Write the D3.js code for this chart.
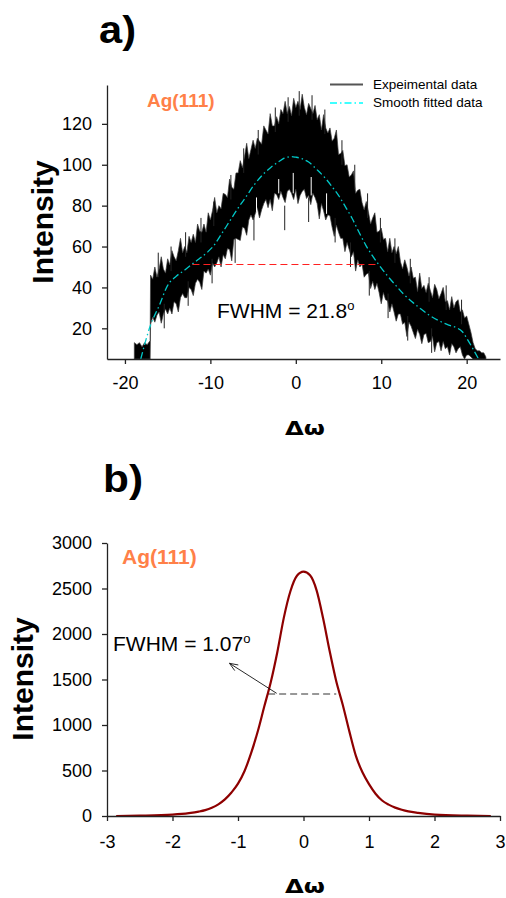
<!DOCTYPE html>
<html><head><meta charset="utf-8">
<script src="https://cdn.jsdelivr.net/npm/d3@7"></script>
<style>body{margin:0;background:#fff}svg{display:block}</style>
</head><body>
<script>
// ---------- Panel a data ----------
const aXTicks = [-20, -10, 0, 10, 20];
const aYTicks = [20, 40, 60, 80, 100, 120];
// experimental trace, read as upper / lower edge of the noisy band
const expX = [-18.9,-18.6,-18.3,-18,-17.7,-17.4,-17.05,
  -17,-16.75,-16.5,-16.25,-16,-15.75,-15.5,-15.25,-15,
  -14.75,-14.5,-14.25,-14,-13.75,-13.5,-13.25,-13,
  -12.75,-12.5,-12.25,-12,-11.75,-11.5,-11.25,-11,
  -10.75,-10.5,-10.25,-10,-9.75,-9.5,-9.25,-9,
  -8.75,-8.5,-8.25,-8,-7.75,-7.5,-7.25,-7,
  -6.75,-6.5,-6.25,-6,-5.75,-5.5,-5.25,-5,
  -4.75,-4.5,-4.25,-4,-3.75,-3.5,-3.25,-3,
  -2.75,-2.5,-2.25,-2,-1.75,-1.5,-1.25,-1,
  -0.75,-0.5,-0.25,0,0.25,0.5,0.75,1,
  1.25,1.5,1.75,2,2.25,2.5,2.75,3,
  3.25,3.5,3.75,4,4.25,4.5,4.75,5,
  5.25,5.5,5.75,6,6.25,6.5,6.75,7,
  7.25,7.5,7.75,8,8.25,8.5,8.75,9,
  9.25,9.5,9.75,10,10.25,10.5,10.75,11,
  11.25,11.5,11.75,12,12.25,12.5,12.75,13,
  13.25,13.5,13.75,14,14.25,14.5,14.75,15,
  15.25,15.5,15.75,16,16.25,16.5,16.75,17,
  17.25,17.5,17.75,18,18.25,18.5,18.75,19,
  19.25,19.5,19.75,20,20.25,20.5,
  20.75,21,21.25,21.5,21.75,22,22.25];
const expHi = [13,12,13,11,13,12,14,
  46,44,50,45,49,55,49,47,54,
  51,58,55,53,58,64,57,60,
  57,65,62,66,62,71,67.5,67,
  71,67,76.5,73,77.5,84,76.5,80,
  78.5,86,85.5,84,93,89,88,96,
  96,102,98.5,104,110.5,103,107.5,112,
  108,113,111.5,110,119,117,115,125,
  119,119,123.5,120,127,125,131,125,
  128.5,124,132.5,128,131,127,134.5,128,
  124.5,130,127.5,125,129,122,124.5,117,
  124.5,118,115.5,118,111.5,113,117,105,
  105.5,107,99.5,100,94,95,97,86,
  87.5,88,81.5,78,82,77,71,74,
  76.5,67,67.5,69,63.5,64,57.5,64,
  57,60,56.5,60,52.5,49,53.5,50,
  45.5,50,44.5,45,38,47,39.5,41,
  37.5,42,38.5,35,41.5,39,34.5,37,
  40,33,33.5,29,35.5,30,33,34,
  28,29,25,26,22,18,
  13,10,9,9,8,8,6];
const expLo = [5,5,5,5,5,5,5,
  22,25.5,23,26.5,28,22.5,27,29.5,27,
  30,27,33,32,28,35,37,35,
  35,40,39,36,42,44,42.5,39,
  48,47,49,46,52,50,52,55,
  50,56,54,59,58.5,53,63.5,64,
  63.5,63,69.5,69,65.5,73,75.5,73,
  76,79,74,78,81,83,79,83,
  77.5,86,85.5,83,87,84,81.5,87,
  88,86,83,88,81,85,87,88,
  83.5,85,80.5,86,84,81,73.5,81,
  77.5,73,75.5,75,69.5,65,70.5,67,
  64,64,57.5,62,58.5,55,57.5,48,
  53.5,50,51.5,45,46.5,47,39.5,43,
  39,42,37.5,32,37.5,34,33.5,28,
  32,28,23.5,27,27,22,23,16,
  23,21,18,15,19.5,17,12.5,17,
  17.5,13,13.5,16,8.5,13,13.5,9,
  13.5,10,11,7,12.5,11,8,10,
  11,7,5,7,7,6,
  5,5,5,5,5,5,5];
// tallest single spikes of the trace: x, upper value, lower value
const spikeX   = [-16.1,-14.6,-12.9,-11.1,-9.6,-7.6,-6.1,-4.4,-2.4,-0.9,0.4,1.9,3.4,5.4,6.9,8.4,9.9,11.6,13.4,15.6,17.6,19.4,
                  -15.4,-12.6,-9.8,-7.1,-4.9,-1.3,1.5,4.6,6.4,8.6,10.8,13.1,15.9];
const spikeTop = [57,60,67,74,82,95,108,117,128,133,136,134,127,112,100,86,74,64,54,45,41,34,
                  32,43,54,64,75,80,84,74,62,48,37,26,20];
const spikeBot = [45,48,55,62,70,83,96,105,116,121,124,122,115,100,88,74,62,52,42,33,29,22,
                  20,31,42,52,63,68,72,62,50,36,25,14,8];
// light gaps inside the trace
const gapX   = [-4.6,-2.0,-0.3,1.8,3.6];
const gapBot = [77,86,86,85,76];
const gapTop = [84,93,96,94,86];
// smooth fit
const fitX = [-18.15,-17,-16,-15,-14,-13,-12.3,-11.3,-10.3,-9.5,-8.8,-7.8,-6.8,-5.8,-4.9,-3.9,-2.9,-2,-1.36,-0.5,0,0.7,1.5,2.5,3.5,4.2,5,5.8,6.6,7.4,8.2,9,9.75,10.7,11.7,12.6,13.6,14.6,15.6,16.7,17.9,18.8,19.5,20.1,20.7,21.4];
const fitY = [5,21.6,31,41,45.5,48.5,50.9,54,57.4,61,65.5,72,78.5,84.5,90,95,98.8,101.5,103.2,104,103.7,103,101.3,97.5,93.2,89.5,85,79.5,73.7,67,60.6,55.3,50.9,45.8,41,36.8,33,29.6,26.5,23.8,21.6,20.3,18.3,14.5,10.2,5];
const fwhmAX = [-12.1, 9.7];
const fwhmAY = 51.2;
const legendLabels = ["Expeimental data", "Smooth fitted data"];

// ---------- Panel b data ----------
const bXTicks = [-3, -2, -1, 0, 1, 2, 3];
const bYTicks = [0, 500, 1000, 1500, 2000, 2500, 3000];
const peakX = [-2.86,-2.5,-2,-1.75,-1.6,-1.5,-1.4,-1.3,-1.2,-1.1,-1,-0.9,-0.8,-0.7,-0.6,-0.5,-0.4,-0.3,-0.2,-0.1,0,0.1,0.2,0.3,0.4,0.5,0.6,0.7,0.8,0.9,1,1.1,1.2,1.3,1.4,1.5,1.6,1.75,2,2.5,2.86];
const peakY = [0,4,16,32,48,64,90,128,182,258,355,495,690,925,1200,1470,1800,2180,2470,2640,2685,2645,2480,2170,1810,1480,1220,930,660,480,350,245,170,125,92,68,50,34,16,4,0];
const fwhmBX = [-0.54, 0.5];
const fwhmBY = 1340;
const arrowB = {x1: -0.41, y1: 1348, x2: -1.13, y2: 1678};

const W = 506, H = 898;
const svg = d3.select("body").append("svg").attr("width", W).attr("height", H);
const FONT = "Liberation Sans, Arial, sans-serif";
const fmt = d => String(d);

function styleAxis(g) {
  g.selectAll(".domain").attr("stroke", "#222").attr("stroke-width", 1.3);
  g.selectAll(".tick line").attr("stroke", "#222").attr("stroke-width", 1.3);
  g.selectAll(".tick text").attr("font-family", FONT).attr("font-size", 18).attr("fill", "#000");
}

// ===== Panel a =====
const xA = d3.scaleLinear([-22.1, 23.9], [107, 500]);
const yA = d3.scaleLinear([5, 139], [359, 85]);
const ga = svg.append("g");

ga.append("text").attr("x", 99).attr("y", 43).attr("font-family", FONT).attr("font-weight", "bold")
  .attr("font-size", 38).attr("textLength", 37).attr("lengthAdjust", "spacingAndGlyphs").text("a)");

const expData = expX.map((x, i) => ({x, hi: expHi[i], lo: expLo[i]}));
ga.append("path").datum(expData)
  .attr("d", d3.area().x(d => xA(d.x)).y0(d => yA(d.lo)).y1(d => yA(d.hi)))
  .attr("fill", "#000").attr("stroke", "#3a3a3a").attr("stroke-width", 0.7).attr("stroke-linejoin", "miter");
ga.append("g").selectAll("line").data(spikeX).join("line")
  .attr("x1", d => xA(d)).attr("x2", d => xA(d))
  .attr("y1", (d, i) => yA(spikeTop[i])).attr("y2", (d, i) => yA(spikeBot[i]))
  .attr("stroke", "#222").attr("stroke-width", 1);
ga.append("g").selectAll("line").data(gapX).join("line")
  .attr("x1", d => xA(d)).attr("x2", d => xA(d))
  .attr("y1", (d, i) => yA(gapTop[i])).attr("y2", (d, i) => yA(gapBot[i]))
  .attr("stroke", "#fff").attr("stroke-width", 1);

ga.append("line").attr("x1", xA(fwhmAX[0])).attr("x2", xA(fwhmAX[1]))
  .attr("y1", yA(fwhmAY)).attr("y2", yA(fwhmAY))
  .attr("stroke", "#ff2020").attr("stroke-width", 1.1).attr("stroke-dasharray", "7,4");

const fitData = fitX.map((x, i) => ({x, y: fitY[i]}));
ga.append("path").datum(fitData)
  .attr("d", d3.line().x(d => xA(d.x)).y(d => yA(d.y)).curve(d3.curveMonotoneX))
  .attr("fill", "none").attr("stroke", "#00c8c8").attr("stroke-width", 1.3)
  .attr("stroke-dasharray", "7,3,1.5,3");

const axA_x = ga.append("g").attr("transform", "translate(0,359)")
  .call(d3.axisBottom(xA).tickValues(aXTicks).tickFormat(fmt).tickSize(5).tickPadding(12).tickSizeOuter(0));
styleAxis(axA_x);
const axA_y = ga.append("g").attr("transform", "translate(107,0)")
  .call(d3.axisLeft(yA).tickValues(aYTicks).tickFormat(fmt).tickSize(5).tickPadding(10).tickSizeOuter(0));
styleAxis(axA_y);

ga.append("text").attr("transform", "translate(53,222) rotate(-90)").attr("text-anchor", "middle")
  .attr("font-family", FONT).attr("font-weight", "bold").attr("font-size", 30).text("Intensity");
ga.append("text").attr("x", 285).attr("y", 435).attr("font-family", "DejaVu Sans, sans-serif")
  .attr("font-weight", "bold").attr("font-size", 19).attr("textLength", 40)
  .attr("lengthAdjust", "spacingAndGlyphs").text("Δω");

ga.append("text").attr("x", 147).attr("y", 106.5).attr("font-family", FONT).attr("font-weight", "bold")
  .attr("font-size", 19).attr("fill", "#ff8048").text("Ag(111)");

const fa = ga.append("text").attr("x", 217).attr("y", 318).attr("font-family", FONT)
  .attr("font-size", 21).attr("fill", "#000");
fa.append("tspan").text("FWHM = 21.8");
fa.append("tspan").attr("font-size", 13).attr("dy", -8).text("o");

// legend
ga.append("line").attr("x1", 330).attr("x2", 363).attr("y1", 84.5).attr("y2", 84.5)
  .attr("stroke", "#555").attr("stroke-width", 2.2);
ga.append("line").attr("x1", 330).attr("x2", 363).attr("y1", 103).attr("y2", 103)
  .attr("stroke", "#00ffff").attr("stroke-width", 1.3).attr("stroke-dasharray", "7,3,1.5,3");
ga.selectAll(".leg").data(legendLabels).join("text").attr("class", "leg")
  .attr("x", 373).attr("y", (d, i) => i === 0 ? 89 : 107.3)
  .attr("font-family", FONT).attr("font-size", 13.5).attr("fill", "#000").text(d => d);

// ===== Panel b =====
const xB = d3.scaleLinear([-3, 3], [107, 500]);
const yB = d3.scaleLinear([0, 3000], [816, 543]);
const gb = svg.append("g");

gb.append("text").attr("x", 103).attr("y", 492).attr("font-family", FONT).attr("font-weight", "bold")
  .attr("font-size", 38).attr("textLength", 40).attr("lengthAdjust", "spacingAndGlyphs").text("b)");

gb.append("line").attr("x1", xB(fwhmBX[0])).attr("x2", xB(fwhmBX[1]))
  .attr("y1", yB(fwhmBY)).attr("y2", yB(fwhmBY))
  .attr("stroke", "#777").attr("stroke-width", 1.6).attr("stroke-dasharray", "7,4");

const peakData = peakX.map((x, i) => ({x, y: peakY[i]}));
gb.append("path").datum(peakData)
  .attr("d", d3.line().x(d => xB(d.x)).y(d => yB(d.y)).curve(d3.curveMonotoneX))
  .attr("fill", "none").attr("stroke", "#8e0000").attr("stroke-width", 2.2);

const axB_x = gb.append("g").attr("transform", "translate(0,816)")
  .call(d3.axisBottom(xB).tickValues(bXTicks).tickFormat(fmt).tickSize(5).tickPadding(14.5).tickSizeOuter(0));
styleAxis(axB_x);
const axB_y = gb.append("g").attr("transform", "translate(107,0)")
  .call(d3.axisLeft(yB).tickValues(bYTicks).tickFormat(fmt).tickSize(5).tickPadding(10).tickSizeOuter(0));
styleAxis(axB_y);

// arrow
const ax1 = xB(arrowB.x1), ay1 = yB(arrowB.y1), ax2 = xB(arrowB.x2), ay2 = yB(arrowB.y2);
const ang = Math.atan2(ay2 - ay1, ax2 - ax1);
gb.append("line").attr("x1", ax1).attr("y1", ay1).attr("x2", ax2).attr("y2", ay2)
  .attr("stroke", "#111").attr("stroke-width", 0.9);
const hl = 9, ha = 0.38;
gb.append("path")
  .attr("d", `M${ax2 - hl * Math.cos(ang - ha)},${ay2 - hl * Math.sin(ang - ha)}L${ax2},${ay2}L${ax2 - hl * Math.cos(ang + ha)},${ay2 - hl * Math.sin(ang + ha)}`)
  .attr("fill", "none").attr("stroke", "#111").attr("stroke-width", 0.9);

gb.append("text").attr("transform", "translate(33,679) rotate(-90)").attr("text-anchor", "middle")
  .attr("font-family", FONT).attr("font-weight", "bold").attr("font-size", 30).text("Intensity");
gb.append("text").attr("x", 285).attr("y", 893).attr("font-family", "DejaVu Sans, sans-serif")
  .attr("font-weight", "bold").attr("font-size", 19).attr("textLength", 40)
  .attr("lengthAdjust", "spacingAndGlyphs").text("Δω");

gb.append("text").attr("x", 122).attr("y", 564).attr("font-family", FONT).attr("font-weight", "bold")
  .attr("font-size", 21).attr("fill", "#ff8048").text("Ag(111)");

const fb = gb.append("text").attr("x", 113).attr("y", 651).attr("font-family", FONT)
  .attr("font-size", 21).attr("fill", "#000");
fb.append("tspan").text("FWHM = 1.07");
fb.append("tspan").attr("font-size", 13).attr("dy", -8).text("o");
</script>
</body></html>
